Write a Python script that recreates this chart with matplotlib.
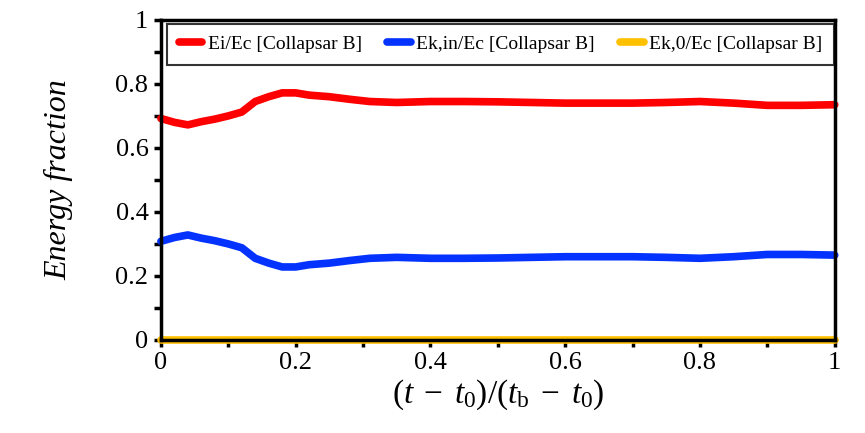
import matplotlib
matplotlib.use('Agg')
import matplotlib.pyplot as plt
from matplotlib.ticker import MultipleLocator, FuncFormatter

plt.rcParams['font.family'] = 'Liberation Serif'
plt.rcParams['mathtext.fontset'] = 'custom'
plt.rcParams['mathtext.rm'] = 'Liberation Serif'
plt.rcParams['mathtext.it'] = 'Liberation Serif:italic'

# normalised time
t = [0, 0.02, 0.04, 0.06, 0.08, 0.10, 0.12, 0.14, 0.16, 0.18, 0.20, 0.22,
     0.25, 0.28, 0.31, 0.35, 0.40, 0.45, 0.50, 0.55, 0.60, 0.65, 0.70,
     0.75, 0.80, 0.85, 0.90, 0.95, 1.0]
ei = [0.692, 0.680, 0.672, 0.682, 0.690, 0.700, 0.712, 0.745, 0.760, 0.772,
      0.772, 0.765, 0.760, 0.752, 0.745, 0.742, 0.745, 0.745, 0.744, 0.742,
      0.740, 0.740, 0.740, 0.742, 0.745, 0.740, 0.733, 0.733, 0.735]
ekin = [0.308, 0.320, 0.328, 0.318, 0.310, 0.300, 0.288, 0.255, 0.240, 0.228,
        0.228, 0.235, 0.240, 0.248, 0.255, 0.258, 0.255, 0.255, 0.256, 0.258,
        0.260, 0.260, 0.260, 0.258, 0.255, 0.260, 0.267, 0.267, 0.265]
ek0 = [0.0] * len(t)

labels = ['Ei/Ec [Collapsar B]', 'Ek,in/Ec [Collapsar B]', 'Ek,0/Ec [Collapsar B]']
colors = ['#ff0000', '#0433ff', '#ffc000']

fig = plt.figure(figsize=(8.65, 4.33), dpi=100)
ax = fig.add_axes([0.186, 0.215, 0.779, 0.739])

for y, lab, c in zip([ei, ekin, ek0], labels, colors):
    ax.plot(t, y, color=c, lw=5.5, label=lab, solid_capstyle='round', clip_on=False)

ax.set_xlim(0, 1)
ax.set_ylim(0, 1)
ax.xaxis.set_major_locator(MultipleLocator(0.1))
ax.yaxis.set_major_locator(MultipleLocator(0.1))

def fmt(v, pos):
    k = int(round(v * 10))
    if k % 2:
        return ''
    if k == 0:
        return '0'
    if k == 10:
        return '1'
    return '%.1f' % v

ax.xaxis.set_major_formatter(FuncFormatter(fmt))
ax.yaxis.set_major_formatter(FuncFormatter(fmt))
ax.tick_params(direction='out', length=5, width=2.5, labelsize=19, pad=4)
for s in ax.spines.values():
    s.set_linewidth(2.5)

ax.set_ylabel('Energy fraction', style='italic', fontsize=23, labelpad=30)
ax.set_xlabel(r'$(t\;-\;t_0)/(t_\mathrm{b}\;-\;t_0)$', fontsize=24, labelpad=2)

leg = ax.legend(loc='upper left', bbox_to_anchor=(0.009, 0.9875), ncol=3,
                fontsize=14, frameon=True, fancybox=False, handlelength=1.2,
                handletextpad=0.3, columnspacing=1.3, borderaxespad=0,
                borderpad=0.6)
leg.get_frame().set_edgecolor('black')
leg.get_frame().set_linewidth(1.5)

fig.savefig('out.png', dpi=100)
